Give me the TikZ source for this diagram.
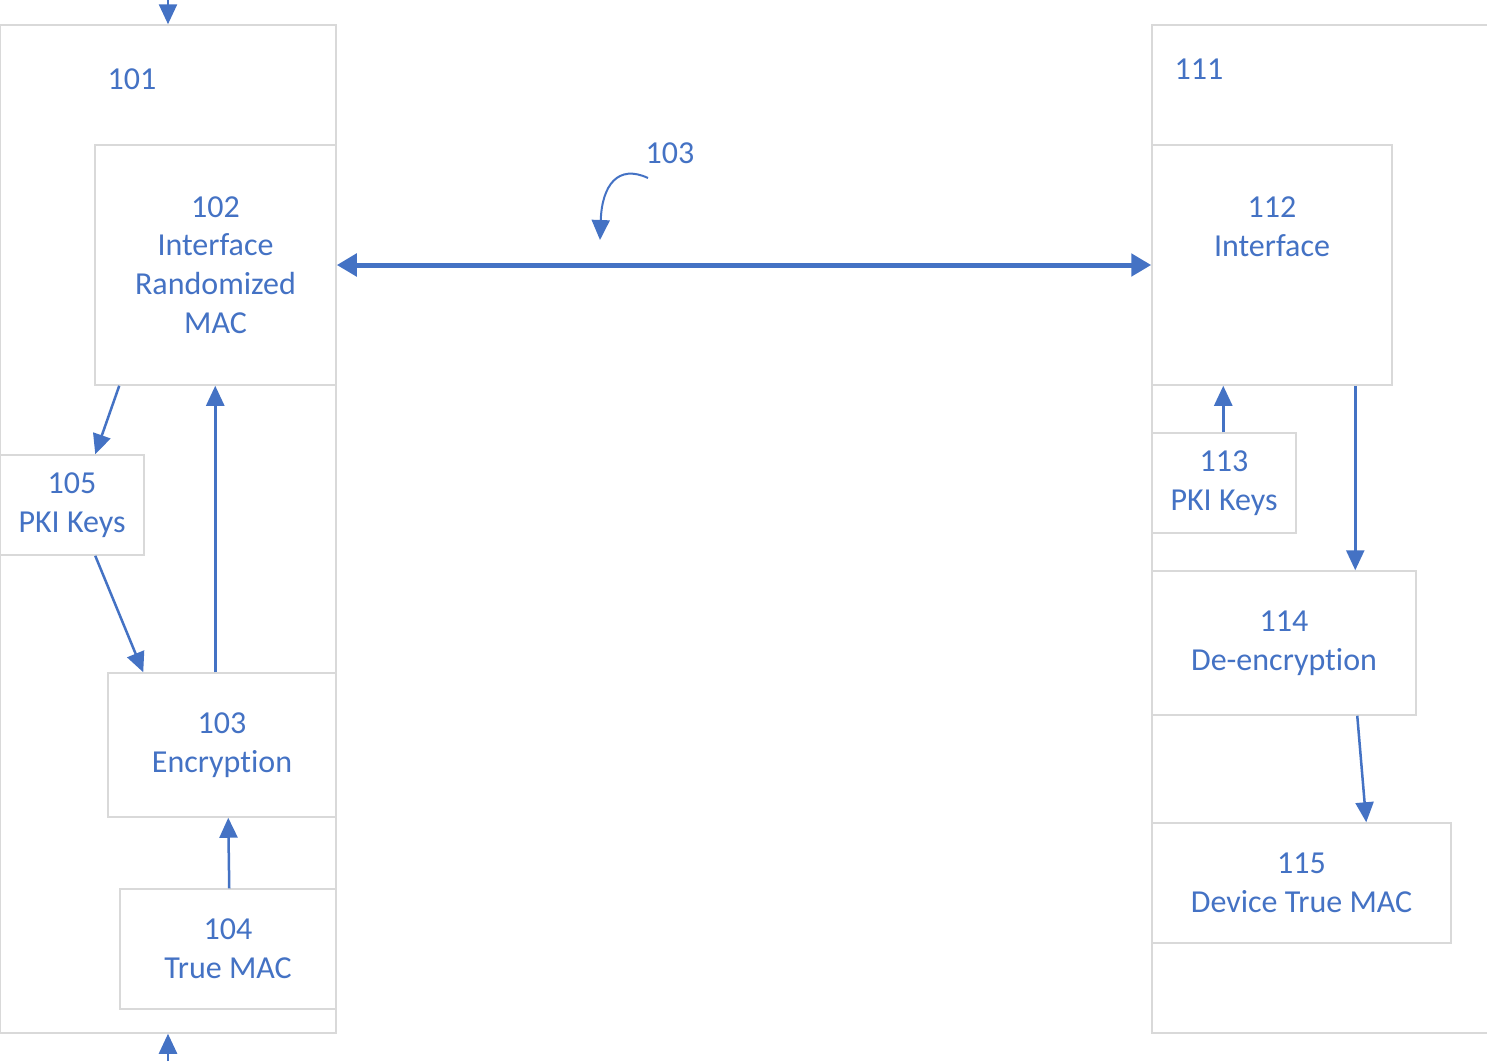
\documentclass[tikz,border=0pt]{standalone}
\usepackage{fontspec}
\setmainfont{Carlito}[Ligatures=NoCommon]
\usetikzlibrary{arrows.meta}
\definecolor{ablue}{HTML}{4472C4}
\definecolor{bgray}{HTML}{D9D9D9}
\tikzset{
  box/.style={draw=bgray, line width=1.5pt, fill=white, inner sep=0pt, align=center,
    text=ablue, font=\fontsize{32}{38.6}\selectfont},
  lbl/.style={text=ablue, inner sep=0pt, font=\fontsize{32}{38.6}\selectfont},
  conn/.style={draw=ablue, line width=2.5pt, -{Triangle[length=20pt,width=18pt]}},
  link/.style={draw=ablue, line width=5pt, {Triangle[length=20pt,width=22pt]}-{Triangle[length=20pt,width=22pt]}},
}
\begin{document}
\begin{tikzpicture}[x=1pt,y=-1pt]
\useasboundingbox (0,0) rectangle (1487,1061);
\clip (0,0) rectangle (1487,1061);
% outer boxes
\node[box, minimum width=336pt, minimum height=1008pt] (b101) at (168,529) {};
\node[box, minimum width=343pt, minimum height=1008pt] (b111) at (1323.5,529) {};
\node[lbl] (l101) at (132,79) {101};
\node[lbl] (l111) at (1199,69) {111};
% left inner boxes
\node[box, minimum width=241pt, minimum height=240pt] (b102) at (215.5,265) {102\\Interface\\Randomized\\MAC};
\node[box, minimum width=144pt, minimum height=100pt] (b105) at (72,505) {105\\PKI Keys};
\node[box, minimum width=228pt, minimum height=144pt] (b103) at (222,745) {103\\Encryption};
\node[box, minimum width=216pt, minimum height=120pt] (b104) at (228,949) {104\\True MAC};
% right inner boxes
\node[box, minimum width=240pt, minimum height=240pt] (b112) at (1272,265) {112\\Interface\\~\\~};
\node[box, minimum width=144pt, minimum height=100pt] (b113) at (1224,483) {113\\PKI Keys};
\node[box, minimum width=264pt, minimum height=144pt] (b114) at (1284,643) {114\\De-encryption};
\node[box, minimum width=299pt, minimum height=120pt] (b115) at (1301.5,883) {115\\Device True MAC};
% link label
\node[lbl] (l103) at (670,153) {103};
\coordinate (c1) at (648,178);
\coordinate (c2) at (600,240);
\coordinate (ttop) at (168,-2);
\coordinate (tbot) at (168,1061);
% connectors
\draw[link] (b102.east) -- (b112.west);
\draw[conn, line width=2pt] (c1) .. controls (618,164) and (602,185) .. (c2);
\draw[conn] (ttop) -- (b101.north);
\draw[conn] (tbot) -- (b101.south);
\draw[conn] ([xshift=25pt]b102.south west) -- ([xshift=96pt]b105.north west);
\draw[conn] ([xshift=96pt]b105.south west) -- ([xshift=36pt]b103.north west);
\draw[conn] ([xshift=108pt]b103.north west) -- ([xshift=121pt]b102.south west);
\draw[conn] ([xshift=110pt]b104.north west) -- ([xshift=121pt]b103.south west);
\draw[conn] ([xshift=72pt]b113.north west) -- ([xshift=72pt]b112.south west);
\draw[conn] ([xshift=204pt]b112.south west) -- ([xshift=204pt]b114.north west);
\draw[conn] ([xshift=206pt]b114.south west) -- ([xshift=215pt]b115.north west);
\end{tikzpicture}
\end{document}
